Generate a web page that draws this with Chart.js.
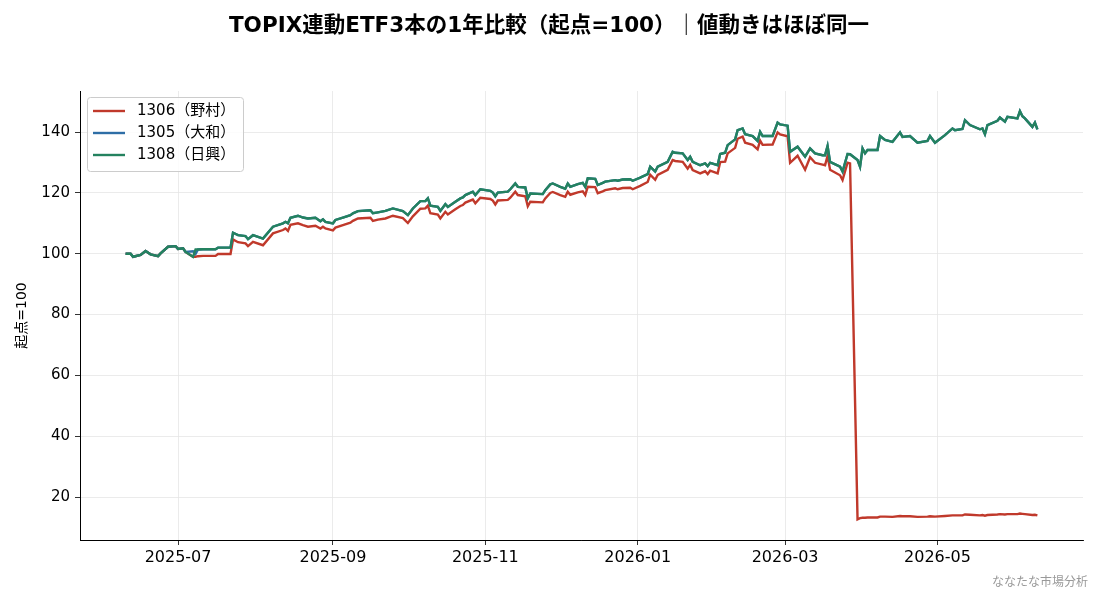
<!DOCTYPE html>
<html lang="ja">
<head>
<meta charset="utf-8">
<title>TOPIX連動ETF3本の1年比較</title>
<script src="https://cdn.jsdelivr.net/npm/chart.js@4.4.1/dist/chart.umd.min.js"></script>
<style>
  html, body { margin: 0; padding: 0; background: #fff; }
</style>
</head>
<body>
<canvas id="etfChart" width="1100" height="594"></canvas>
<script>
// 起点=100 に揃えた終値
const dates = [
  "2025-06-10", "2025-06-12", "2025-06-13", "2025-06-16", "2025-06-18", "2025-06-20", "2025-06-23", "2025-06-24",
  "2025-06-27", "2025-06-30", "2025-07-01", "2025-07-03", "2025-07-04", "2025-07-07", "2025-07-08", "2025-07-09",
  "2025-07-11", "2025-07-16", "2025-07-17", "2025-07-22", "2025-07-23", "2025-07-25", "2025-07-28", "2025-07-29",
  "2025-07-31", "2025-08-04", "2025-08-08", "2025-08-12", "2025-08-13", "2025-08-14", "2025-08-15", "2025-08-18",
  "2025-08-20", "2025-08-22", "2025-08-25", "2025-08-27", "2025-08-28", "2025-08-29", "2025-09-01", "2025-09-02",
  "2025-09-05", "2025-09-08", "2025-09-09", "2025-09-11", "2025-09-16", "2025-09-17", "2025-09-19", "2025-09-22",
  "2025-09-25", "2025-09-29", "2025-10-01", "2025-10-03", "2025-10-06", "2025-10-08", "2025-10-09", "2025-10-10",
  "2025-10-13", "2025-10-14", "2025-10-16", "2025-10-17", "2025-10-20", "2025-10-22", "2025-10-23", "2025-10-24",
  "2025-10-27", "2025-10-28", "2025-10-30", "2025-11-03", "2025-11-04", "2025-11-05", "2025-11-06", "2025-11-10",
  "2025-11-11", "2025-11-13", "2025-11-14", "2025-11-17", "2025-11-18", "2025-11-19", "2025-11-24", "2025-11-25",
  "2025-11-27", "2025-11-28", "2025-12-01", "2025-12-03", "2025-12-04", "2025-12-05", "2025-12-08", "2025-12-10",
  "2025-12-11", "2025-12-12", "2025-12-15", "2025-12-16", "2025-12-18", "2025-12-19", "2025-12-23", "2025-12-24",
  "2025-12-26", "2025-12-29", "2025-12-30", "2026-01-02", "2026-01-05", "2026-01-06", "2026-01-08", "2026-01-09",
  "2026-01-13", "2026-01-15", "2026-01-16", "2026-01-19", "2026-01-21", "2026-01-22", "2026-01-23", "2026-01-26",
  "2026-01-28", "2026-01-29", "2026-01-30", "2026-02-02", "2026-02-03", "2026-02-05", "2026-02-06", "2026-02-09",
  "2026-02-10", "2026-02-12", "2026-02-13", "2026-02-16", "2026-02-18", "2026-02-19", "2026-02-20", "2026-02-24",
  "2026-02-26", "2026-02-27", "2026-03-02", "2026-03-03", "2026-03-06", "2026-03-09", "2026-03-11", "2026-03-13",
  "2026-03-16", "2026-03-17", "2026-03-18", "2026-03-19", "2026-03-23", "2026-03-24", "2026-03-26", "2026-03-27",
  "2026-03-30", "2026-03-31", "2026-04-01", "2026-04-02", "2026-04-03", "2026-04-07", "2026-04-08", "2026-04-10",
  "2026-04-13", "2026-04-16", "2026-04-17", "2026-04-20", "2026-04-23", "2026-04-27", "2026-04-28", "2026-04-30",
  "2026-05-04", "2026-05-07", "2026-05-08", "2026-05-11", "2026-05-12", "2026-05-14", "2026-05-18", "2026-05-19",
  "2026-05-20", "2026-05-21", "2026-05-25", "2026-05-26", "2026-05-28", "2026-05-29", "2026-06-02", "2026-06-03",
  "2026-06-04", "2026-06-05", "2026-06-08", "2026-06-09", "2026-06-10"
];

const nikko1308 = [
  100.0, 100.0, 99.0, 99.6, 100.9, 99.8, 99.2, 100.1,
  102.3, 102.5, 101.6, 101.8, 100.6, 99.0, 101.4, 101.4,
  101.5, 101.5, 102.0, 102.0, 106.9, 106.1, 105.8, 104.8,
  106.1, 105.0, 108.9, 110.0, 110.5, 110.0, 111.8, 112.5,
  111.9, 111.6, 111.8, 110.7, 111.3, 110.5, 110.0, 111.1,
  111.9, 112.7, 113.3, 114.0, 114.3, 113.3, 113.6, 114.1,
  114.9, 114.0, 112.7, 114.9, 117.3, 117.3, 118.2, 115.8,
  115.4, 114.1, 116.3, 115.4, 117.1, 118.2, 118.5, 119.3,
  120.4, 119.3, 121.2, 120.7, 120.1, 118.9, 120.1, 120.4,
  121.2, 123.1, 122.0, 121.8, 118.2, 119.8, 119.6, 120.9,
  122.8, 123.1, 122.0, 121.4, 123.1, 122.0, 122.9, 123.3,
  122.0, 124.8, 124.6, 122.6, 123.3, 123.7, 124.2, 124.0,
  124.4, 124.5, 124.0, 125.0, 126.2, 128.6, 127.0, 128.6,
  130.2, 133.5, 133.2, 133.0, 130.8, 131.9, 130.2, 129.1,
  129.7, 128.8, 129.9, 129.1, 132.8, 133.2, 135.7, 137.6,
  140.6, 141.2, 139.3, 138.7, 137.1, 140.1, 138.7, 138.7,
  143.1, 142.5, 142.1, 133.5, 135.2, 131.9, 134.6, 133.0,
  132.4, 132.4, 135.4, 130.2, 128.6, 127.0, 132.8, 132.7,
  130.8, 128.6, 134.6, 133.0, 134.1, 134.1, 138.7, 137.4,
  136.8, 139.9, 138.4, 138.7, 136.5, 137.1, 138.7, 136.5,
  139.0, 141.2, 140.6, 141.0, 143.9, 142.3, 140.9, 141.2,
  139.3, 142.3, 143.7, 144.8, 143.4, 145.0, 144.5, 146.9,
  145.2, 144.5, 141.7, 143.1, 140.9
];

const daiwa1305 = [
  100.0, 100.0, 99.0, 99.6, 100.9, 99.8, 99.2, 100.1,
  102.3, 102.5, 101.6, 101.8, 100.6, 100.8, 99.9, 101.4,
  101.5, 101.5, 102.0, 102.0, 106.9, 106.1, 105.8, 104.8,
  106.1, 105.0, 108.9, 110.0, 110.5, 110.0, 111.8, 112.5,
  111.9, 111.6, 111.8, 110.7, 111.3, 110.5, 110.0, 111.1,
  111.9, 112.7, 113.3, 114.0, 114.3, 113.3, 113.6, 114.1,
  114.9, 114.0, 112.7, 114.9, 117.3, 117.3, 118.2, 115.8,
  115.4, 114.1, 116.3, 115.4, 117.1, 118.2, 118.5, 119.3,
  120.4, 119.3, 121.2, 120.7, 120.1, 118.9, 120.1, 120.4,
  121.2, 123.1, 122.0, 121.8, 118.2, 119.8, 119.6, 120.9,
  122.8, 123.1, 122.0, 121.4, 123.1, 122.0, 122.9, 123.3,
  122.0, 124.8, 124.6, 122.6, 123.3, 123.7, 124.2, 124.0,
  124.4, 124.5, 124.0, 125.0, 126.2, 128.6, 127.0, 128.6,
  130.2, 133.5, 133.2, 133.0, 130.8, 131.9, 130.2, 129.1,
  129.7, 128.8, 129.9, 129.1, 132.8, 133.2, 135.7, 137.6,
  140.6, 141.2, 139.3, 138.7, 137.1, 140.1, 138.7, 138.7,
  143.1, 142.5, 142.1, 133.5, 135.2, 131.9, 134.6, 133.0,
  132.4, 132.4, 135.4, 130.2, 128.6, 127.0, 132.8, 132.7,
  130.8, 128.6, 134.6, 133.0, 134.1, 134.1, 138.7, 137.4,
  136.8, 139.9, 138.4, 138.7, 136.5, 137.1, 138.7, 136.5,
  139.0, 141.2, 140.6, 141.0, 143.9, 142.3, 140.9, 141.2,
  139.3, 142.3, 143.7, 144.8, 143.4, 145.0, 144.5, 146.9,
  145.2, 144.5, 141.7, 143.1, 140.9
];

const nomura1306 = [
  100.0, 100.0, 99.0, 99.6, 100.9, 99.8, 99.2, 100.1,
  102.3, 102.5, 101.6, 101.8, 100.6, 99.0, 99.0, 99.2,
  99.3, 99.3, 99.9, 99.9, 104.7, 103.8, 103.4, 102.5,
  103.9, 102.8, 106.7, 107.8, 108.3, 107.5, 109.5, 110.0,
  109.4, 108.9, 109.2, 108.3, 108.9, 108.3, 107.7, 108.6,
  109.4, 110.2, 110.8, 111.6, 111.8, 110.8, 111.2, 111.6,
  112.5, 111.7, 110.1, 112.3, 114.8, 114.9, 115.8, 113.3,
  112.9, 111.6, 113.8, 112.9, 114.6, 115.7, 116.0, 116.8,
  117.8, 116.6, 118.4, 118.0, 117.5, 116.2, 117.5, 117.7,
  118.4, 120.4, 119.3, 118.9, 115.6, 117.1, 116.9, 118.2,
  120.0, 120.3, 119.3, 118.7, 120.4, 119.4, 120.2, 120.5,
  119.3, 122.0, 121.9, 119.9, 120.5, 120.9, 121.5, 121.2,
  121.6, 121.7, 121.2, 122.3, 123.6, 126.0, 124.3, 125.9,
  127.6, 130.8, 130.5, 130.2, 128.0, 129.2, 127.5, 126.4,
  127.1, 126.2, 127.3, 126.4, 130.1, 130.3, 133.0, 134.8,
  137.8, 138.5, 136.5, 135.8, 134.3, 137.2, 135.8, 135.9,
  139.9, 139.2, 138.6, 129.9, 132.2, 127.6, 131.7, 129.9,
  129.3, 129.1, 132.2, 127.6, 125.8, 124.2, 129.9, 129.7,
  12.7, 13.1, 13.2, 13.2, 13.3, 13.3, 13.6, 13.6,
  13.5, 13.8, 13.7, 13.7, 13.5, 13.6, 13.7, 13.6,
  13.8, 14.0, 14.0, 14.0, 14.3, 14.2, 14.0, 14.1,
  13.9, 14.1, 14.3, 14.4, 14.3, 14.4, 14.4, 14.6,
  14.5, 14.4, 14.1, 14.2, 14.0
];

const yTicks = [20, 40, 60, 80, 100, 120, 140];
const xTicks = ["2025-07", "2025-09", "2025-11", "2026-01", "2026-03", "2026-05"];

const FONT = "'DejaVu Sans', 'Noto Sans CJK JP', sans-serif";

function toPoints(values) {
  return dates.map((d, i) => ({ x: Date.parse(d), y: values[i] }));
}

function monthLabel(ms) {
  const d = new Date(ms);
  return d.getUTCFullYear() + "-" + String(d.getUTCMonth() + 1).padStart(2, "0");
}

const first = Date.parse(dates[0]);
const last = Date.parse(dates[dates.length - 1]);
const xPad = (last - first) * 0.05;

const series = [
  { label: "1306（野村）", values: nomura1306, color: "#c0392b", order: 3 },
  { label: "1305（大和）", values: daiwa1305, color: "#2e6ea6", order: 2 },
  { label: "1308（日興）", values: nikko1308, color: "#24825f", order: 1 },
];

// タイトル・軸ラベル・凡例・クレジットを描く
const decorations = {
  id: "decorations",
  afterDraw(chart) {
    const { ctx, chartArea } = chart;
    ctx.save();

    ctx.fillStyle = "#000";
    ctx.textAlign = "center";
    ctx.textBaseline = "middle";
    ctx.font = "bold 21.5px " + FONT;
    ctx.fillText("TOPIX連動ETF3本の1年比較（起点=100）｜値動きはほぼ同一", 549, 26);

    ctx.save();
    ctx.translate(22, (chartArea.top + chartArea.bottom) / 2);
    ctx.rotate(-Math.PI / 2);
    ctx.font = "14px " + FONT;
    ctx.fillText("起点=100", 0, 0);
    ctx.restore();

    ctx.textAlign = "right";
    ctx.fillStyle = "#999";
    ctx.font = "12px " + FONT;
    ctx.fillText("ななたな市場分析", 1088, 583);

    // 凡例
    const bx = chartArea.left + 7, by = chartArea.top + 6, bw = 156, bh = 74;
    ctx.beginPath();
    ctx.roundRect(bx + 0.5, by + 0.5, bw, bh, 3);
    ctx.fillStyle = "rgba(255,255,255,0.85)";
    ctx.fill();
    ctx.strokeStyle = "#cccccc";
    ctx.lineWidth = 1;
    ctx.stroke();

    ctx.textAlign = "left";
    ctx.font = "15px " + FONT;
    series.forEach((s, i) => {
      const y = by + 14 + i * 22;
      ctx.strokeStyle = s.color;
      ctx.lineWidth = 2.4;
      ctx.beginPath();
      ctx.moveTo(bx + 6, y);
      ctx.lineTo(bx + 38, y);
      ctx.stroke();
      ctx.fillStyle = "#000";
      ctx.fillText(s.label, bx + 50, y);
    });

    ctx.restore();
  },
};

new Chart(document.getElementById("etfChart"), {
  type: "line",
  data: {
    datasets: series.map((s) => ({
      label: s.label,
      data: toPoints(s.values),
      borderColor: s.color,
      backgroundColor: s.color,
      borderWidth: 2.4,
      pointRadius: 0,
      tension: 0,
      order: s.order,
    })),
  },
  options: {
    responsive: false,
    animation: false,
    layout: { padding: { top: 91, right: 17, bottom: 0, left: 0 } },
    plugins: {
      legend: { display: false },
      title: { display: false },
      tooltip: { enabled: false },
    },
    scales: {
      x: {
        type: "linear",
        min: first - xPad,
        max: last + xPad,
        afterFit: (scale) => { scale.height = 54; },
        afterBuildTicks: (scale) => {
          scale.ticks = xTicks.map((m) => ({ value: Date.parse(m + "-01") }));
        },
        grid: { color: "#e6e6e6", lineWidth: 0.8, tickColor: "#000", tickLength: 5 },
        border: { color: "#000", width: 1 },
        ticks: {
          color: "#000",
          padding: 3,
          maxRotation: 0,
          font: { family: FONT, size: 16 },
          callback: (v) => monthLabel(v),
        },
      },
      y: {
        min: 5.9,
        max: 153.5,
        afterFit: (scale) => { scale.width = 80; },
        afterBuildTicks: (scale) => {
          scale.ticks = yTicks.map((v) => ({ value: v }));
        },
        grid: { color: "#e6e6e6", lineWidth: 0.8, tickColor: "#000", tickLength: 5 },
        border: { color: "#000", width: 1 },
        ticks: {
          color: "#000",
          padding: 5,
          font: { family: FONT, size: 15 },
        },
      },
    },
  },
  plugins: [decorations],
});
</script>
</body>
</html>
